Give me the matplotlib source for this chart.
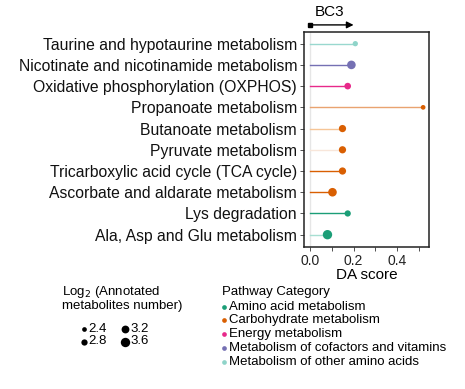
import matplotlib
matplotlib.use("Agg")
import matplotlib.pyplot as plt
import numpy as np

plt.rcParams['font.family'] = ['Liberation Sans', 'DejaVu Sans']

pathways = ["Taurine and hypotaurine metabolism",
            "Nicotinate and nicotinamide metabolism",
            "Oxidative phosphorylation (OXPHOS)",
            "Propanoate metabolism",
            "Butanoate metabolism",
            "Pyruvate metabolism",
            "Tricarboxylic acid cycle (TCA cycle)",
            "Ascorbate and aldarate metabolism",
            "Lys degradation",
            "Ala, Asp and Glu metabolism"]
da_score = [0.208, 0.19, 0.173, 0.52, 0.149, 0.149, 0.149, 0.103, 0.173, 0.08]
log2_n = [2.55, 3.4, 2.9, 2.4, 3.05, 3.05, 3.05, 3.4, 2.8, 3.6]
category = ["Metabolism of other amino acids",
            "Metabolism of cofactors and vitamins",
            "Energy metabolism",
            "Carbohydrate metabolism",
            "Carbohydrate metabolism",
            "Carbohydrate metabolism",
            "Carbohydrate metabolism",
            "Carbohydrate metabolism",
            "Amino acid metabolism",
            "Amino acid metabolism"]
segment_colors = ["#99d8cf", "#7570b3", "#e7298a", "#e9a370", "#f6c596",
                  "#f8e6da", "#d95f02", "#d95f02", "#1b9e77", "#a8dfd2"]
cat_names = ["Amino acid metabolism", "Carbohydrate metabolism", "Energy metabolism",
             "Metabolism of cofactors and vitamins", "Metabolism of other amino acids"]
cat_colors = ["#1b9e77", "#d95f02", "#e7298a", "#7570b3", "#8fd4c9"]
size_legend = [2.4, 2.8, 3.2, 3.6]

def size_s(v):
    d_px = 4.7 + (v - 2.4) * 3.9
    return (d_px * 0.72) ** 2

W, H = 465, 389
fig = plt.figure(figsize=(W / 100, H / 100), dpi=100)
ax = fig.add_axes([304 / W, 1 - 247 / H, (429 - 304) / W, (247 - 32) / H])

n = len(pathways)
ypos = np.arange(n)[::-1]
cmap = dict(zip(cat_names, cat_colors))
ax.axvline(0, color="#e6e6e6", lw=1, zorder=0)
for i in range(n):
    ax.plot([0, da_score[i]], [ypos[i], ypos[i]], color=segment_colors[i], lw=1, zorder=1)
ax.scatter(da_score, ypos, s=[size_s(v) for v in log2_n],
           c=[cmap[c] for c in category], zorder=2, linewidths=0)
ax.set_xlim(-0.028, 0.547)
ax.set_ylim(-0.58, n - 1 + 0.55)
ax.set_yticks(ypos)
ax.set_yticklabels(pathways, fontsize=11.3, color="#111111")
ax.set_xticks([0.0, 0.2, 0.4])
ax.set_xticklabels(["0.0", "0.2", "0.4"], fontsize=10, color="#222222")
ax.set_xticks([0.1, 0.3, 0.5], minor=True)
ax.tick_params(axis='x', which='both', length=3, width=0.6, color="#333333", pad=2)
ax.tick_params(axis='y', length=3, width=0.6, color="#333333", pad=2)
ax.set_xlabel("DA score", fontsize=11, labelpad=0)
for s in ax.spines.values():
    s.set_linewidth(1.1)
    s.set_color("#222222")

# BC3 arrow annotation above the axes
ax.annotate("", xy=(0.2, 1.033), xycoords=("data", "axes fraction"),
            xytext=(0.0, 1.033), textcoords=("data", "axes fraction"),
            arrowprops=dict(arrowstyle="-|>", color="black", lw=1, mutation_scale=10,
                            shrinkA=0, shrinkB=0), annotation_clip=False)
ax.plot([0.0], [1.033], marker="s", ms=3, color="black", transform=ax.get_xaxis_transform(),
        clip_on=False)
ax.text(0.022, 1.06, "BC3", transform=ax.get_xaxis_transform(), fontsize=11,
        ha="left", va="bottom")

# Legends drawn in a pixel overlay
lax = fig.add_axes([0, 0, 1, 1])
lax.set_xlim(0, W)
lax.set_ylim(H, 0)
lax.axis("off")
lfs = 9.5
lax.text(62, 292, "Log$_2$ (Annotated", fontsize=lfs, va="center", ha="left")
lax.text(62, 306.5, "metabolites number)", fontsize=lfs, va="center", ha="left")
spos = [(83.5, 328.5), (83.5, 341.5), (125, 328.5), (125, 341.5)]
for v, (x, y) in zip(size_legend, spos):
    lax.scatter([x], [y], s=size_s(v), color="black", linewidths=0)
    lax.text(x + 5, y, f"{v}", fontsize=lfs, va="center", ha="left")
lax.text(221.5, 292.5, "Pathway Category", fontsize=lfs, va="center", ha="left")
for k, (name, col) in enumerate(zip(cat_names, cat_colors)):
    y = 306.7 + k * 13.75
    lax.scatter([224.3], [y], s=size_s(2.4), color=col, linewidths=0)
    lax.text(229.3, y, name, fontsize=lfs, va="center", ha="left")

fig.savefig("out.png", dpi=100)
